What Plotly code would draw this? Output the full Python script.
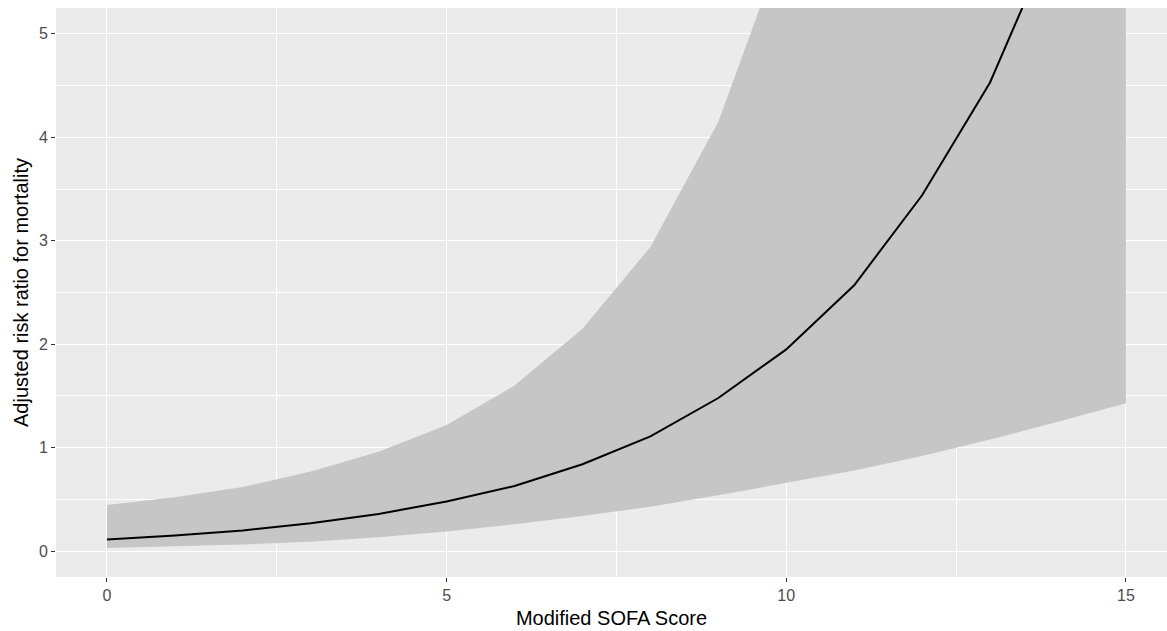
import plotly.graph_objects as go

sofa = [0, 1, 2, 3, 4, 5, 6, 7, 8, 9, 10, 11, 12, 13, 14, 15]
rr = [0.113, 0.15, 0.20, 0.27, 0.36, 0.48, 0.63, 0.84, 1.11, 1.48, 1.95, 2.57, 3.44, 4.53, 6.05, 8.1]
ci_low = [0.03, 0.045, 0.065, 0.09, 0.135, 0.19, 0.26, 0.34, 0.43, 0.54, 0.66, 0.78, 0.92, 1.08, 1.25, 1.43]
ci_high = [0.445, 0.52, 0.62, 0.77, 0.96, 1.22, 1.6, 2.15, 2.94, 4.15, 5.95, 8.3, 11.7, 16.5, 23.0, 32.0]

x_ticks = [0, 5, 10, 15]
y_ticks = [0, 1, 2, 3, 4, 5]
x_minor = [2.5, 7.5, 12.5]
y_minor = [0.5, 1.5, 2.5, 3.5, 4.5]

fig = go.Figure()
fig.add_trace(go.Scatter(x=sofa, y=ci_low, mode="lines", line=dict(width=0, color="rgba(0,0,0,0)"),
                         showlegend=False, hoverinfo="skip"))
fig.add_trace(go.Scatter(x=sofa, y=ci_high, mode="lines", line=dict(width=0, color="rgba(0,0,0,0)"),
                         fill="tonexty", fillcolor="#C6C6C6", showlegend=False, hoverinfo="skip"))
fig.add_trace(go.Scatter(x=sofa, y=rr, mode="lines", line=dict(color="black", width=2),
                         showlegend=False))

axis_common = dict(
    showgrid=True, gridcolor="white", gridwidth=1.3,
    zeroline=False, showline=False, automargin=False,
    ticks="outside", ticklen=4, tickwidth=1, tickcolor="#333333",
    tickfont=dict(family="Liberation Sans, Arial", size=16, color="#4D4D4D"),
)

fig.update_layout(
    width=1167, height=631,
    margin=dict(l=56, r=0, t=8, b=54),
    paper_bgcolor="white", plot_bgcolor="#EBEBEB",
    font=dict(family="Liberation Sans, Arial"),
    xaxis=dict(range=[-0.75, 15.605], tickvals=x_ticks,
               minor=dict(tickvals=x_minor, showgrid=True, gridcolor="white", gridwidth=0.6, ticks=""),
               title=dict(text="Modified SOFA Score", font=dict(size=20, color="black"), standoff=7),
               **axis_common),
    yaxis=dict(range=[-0.25, 5.25], tickvals=y_ticks,
               minor=dict(tickvals=y_minor, showgrid=True, gridcolor="white", gridwidth=0.6, ticks=""),
               title=dict(text="Adjusted risk ratio for mortality", font=dict(size=20, color="black"), standoff=4),
               **axis_common),
)

fig.write_html("out.html", config={"displayModeBar": False},
               post_script="document.body.style.margin='0px';document.body.style.overflow='hidden';")
